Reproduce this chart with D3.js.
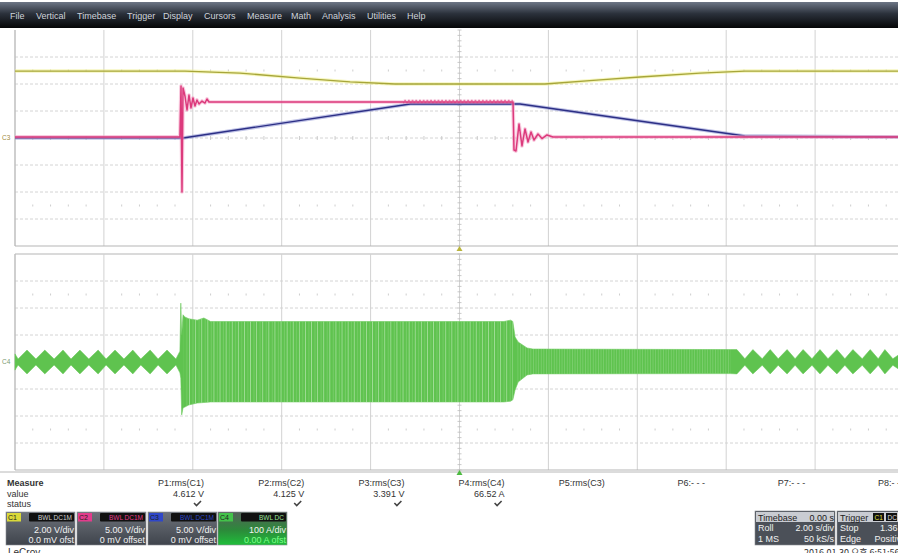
<!DOCTYPE html>
<html><head><meta charset="utf-8">
<script src="https://cdn.jsdelivr.net/npm/d3@7"></script>
<style>
body{margin:0;background:#fff;overflow:hidden}
svg{display:block;font-family:"Liberation Sans",Arial,sans-serif}
</style>
</head><body>
<svg id="c" width="898" height="553"></svg>
<script>
// ---------------- DATA ----------------
const menuItems = ["File","Vertical","Timebase","Trigger","Display","Cursors","Measure","Math","Analysis","Utilities","Help"];
const menuX = [10,36,77,127,163,204,247,291,322,367,407];

const timeDivs = d3.range(-10, 10.001, 2);       // 2.00 s/div, 10 divisions
const vertDivs = d3.range(-4, 4.001, 1);         // 8 vertical divisions

// C1 (yellow) 2 V/div, volts
const c1T = [-10,-6.18,-4.94,-3.59,-2.46,-1.45,1.92,3.16,4.06,5.41,6.42,10];
const c1V = [4.96,4.96,4.81,4.44,4.15,4.00,4.00,4.30,4.52,4.81,4.96,4.96];

// C2 (pink) 5 V/div, volts
const c2T = [-10,-6.29,-6.265,-6.243,-6.22,-6.176,-6.13,-6.086,-6.041,-5.996,-5.95,-5.906,-5.86,-5.793,-5.726,-5.681,-5.636,
             1.204,1.226,1.271,1.339,1.406,1.474,1.541,1.609,1.676,1.766,1.856,1.968,2.103,10];
const c2V = [0.19,0.19,9.63,-10.0,9.26,7.78,5.19,7.96,5.56,7.41,5.93,7.04,6.30,6.85,6.48,7.22,6.67,
             6.67,-2.22,-2.41,2.59,-1.48,1.67,-0.74,1.11,-0.37,0.74,-0.10,0.56,0.19,0.19];
// C2 ripple band while flat-top
const c2RipT = [-1.27, 1.20];
const c2RipV = [6.67, 6.67];
const c2RipAmp = [0.42, 0.42];

// C3 (blue) 5 V/div, volts
const c3T = [-10,-6.22,-1.11,1.36,6.42,10];
const c3V = [0.0,0.0,6.30,6.30,0.37,0.19];

// C4 (green) 100 A/div, amps: envelope
const c4T  = [-10,-9.93,-9.73,-9.53,-9.33,-9.12,-8.92,-8.74,-8.54,-8.34,-8.13,-7.95,-7.75,-7.55,-7.35,-7.17,-6.96,-6.78,-6.58,-6.38,
              -6.29,-6.27,-6.25,-6.22,-6.18,-6.09,-5.90,-5.75,-5.60,1.00,1.15,1.20,1.25,1.32,1.52,1.65,6.09,
              6.24,6.42,6.60,6.81,6.99,7.17,7.37,7.55,7.73,7.93,8.11,8.29,8.49,8.67,8.85,9.06,9.24,9.42,9.57,9.75,10];
const c4Hi = [30,11,44,11,44,11,44,11,44,11,44,11,44,11,44,11,44,11,44,11,
              40,218,100,175,167,160,155,163,150,150,155,150,93,74,52,48,46,
              46,12,46,12,46,12,46,12,46,12,46,12,46,12,46,12,46,12,46,12,40];
const c4Lo = [-30,-11,-44,-11,-44,-11,-44,-11,-44,-11,-44,-11,-44,-11,-44,-11,-44,-11,-44,-11,
              -40,-60,-196,-170,-167,-159,-152,-150,-148,-148,-145,-140,-104,-74,-48,-44,-43,
              -44,-12,-44,-12,-44,-12,-44,-12,-44,-12,-44,-12,-44,-12,-44,-12,-44,-12,-44,-12,-40];

// Measurement table
const mHeaders = ["P1:rms(C1)","P2:rms(C2)","P3:rms(C3)","P4:rms(C4)","P5:rms(C3)","P6:- - -","P7:- - -","P8:- - -"];
const mValues  = ["4.612 V","4.125 V","3.391 V","66.52 A","","","",""];
const mStatus  = [true,true,true,true,false,false,false,false];

// Channel descriptor boxes
const chNames   = ["C1","C2","C3","C4"];
const chColors  = ["#d9d93a","#e23c8c","#2f47c8","#43c24a"];
const chTags    = ["BWL DC1M","BWL DC1M","BWL DC1M","BWL DC"];
const chScale   = ["2.00 V/div","5.00 V/div","5.00 V/div","100 A/div"];
const chOffset  = ["0.0 mV ofst","0 mV offset","0 mV offset","0.00 A ofst"];

const tbRows = [["Timebase","0.00 s"],["Roll","2.00 s/div"],["1 MS","50 kS/s"]];
const trRows = [["Trigger",""],["Stop","1.36 V"],["Edge","Positive"]];

// ---------------- DRAW ----------------
const svg = d3.select("#c");
const W = 898, H = 553;
const defs = svg.append("defs");

// menu bar
const mg = defs.append("linearGradient").attr("id","menuG").attr("x1",0).attr("y1",0).attr("x2",0).attr("y2",1);
mg.append("stop").attr("offset","0").attr("stop-color","#6d7686");
mg.append("stop").attr("offset","0.45").attr("stop-color","#2b313b");
mg.append("stop").attr("offset","1").attr("stop-color","#050607");
svg.append("rect").attr("x",0).attr("y",2).attr("width",W).attr("height",26).attr("fill","url(#menuG)");
svg.selectAll("text.menu").data(menuItems).join("text").attr("class","menu")
  .attr("x",(d,i)=>menuX[i]).attr("y",19).attr("font-size",9).attr("fill","#cfd3da").text(d=>d);

const x = d3.scaleLinear().domain([-10,10]).range([15,904]);

function drawPanel(top, bottom){
  const yd = d3.scaleLinear().domain([-4,4]).range([bottom, top]);
  const g = svg.append("g");
  g.selectAll("line.h").data(vertDivs.slice(1,-1)).join("line")
    .attr("x1",15).attr("x2",W).attr("y1",d=>yd(d)).attr("y2",d=>yd(d))
    .attr("stroke","#c9c9c9").attr("stroke-width",0.8).attr("stroke-dasharray","3,2");
  g.selectAll("line.v").data(timeDivs).join("line")
    .attr("x1",d=>x(d)).attr("x2",d=>x(d)).attr("y1",top).attr("y2",bottom)
    .attr("stroke","#d2d2d2").attr("stroke-width",1);
  const minorT = d3.range(-10, 10.001, 0.4).filter(t=>Math.abs(Math.round(t/2)*2-t)>0.01);
  [0, 2.5, -2.5].forEach(r=>{
    const yy = yd(r);
    g.selectAll(null).data(minorT).join("line")
      .attr("x1",d=>x(d)).attr("x2",d=>x(d)).attr("y1",yy-(r===0?2:1)).attr("y2",yy+(r===0?2:1))
      .attr("stroke","#c2c2c2").attr("stroke-width",0.8);
  });
  const minorV = d3.range(-4, 4.001, 0.2);
  g.selectAll(null).data(minorV).join("line")
    .attr("x1",x(0)-2).attr("x2",x(0)+2).attr("y1",d=>yd(d)).attr("y2",d=>yd(d))
    .attr("stroke","#bdbdbd").attr("stroke-width",0.8);
  g.append("line").attr("x1",15).attr("x2",W).attr("y1",bottom).attr("y2",bottom).attr("stroke","#b5b5b5");
  g.append("line").attr("x1",15).attr("x2",15).attr("y1",top).attr("y2",bottom).attr("stroke","#b5b5b5");
  return yd;
}
drawPanel(30, 246);
svg.append("line").attr("x1",15).attr("x2",W).attr("y1",254).attr("y2",254).attr("stroke","#b5b5b5");
drawPanel(254, 470);

const yC1 = d3.scaleLinear().domain([-8,8]).range([246,30]);
const yC2 = d3.scaleLinear().domain([-20,20]).range([246,30]);
const yC3 = d3.scaleLinear().domain([-20,20]).range([246,30]);
const yC4 = d3.scaleLinear().domain([-400,400]).range([470,254]);

const zip = (T,V)=>T.map((t,i)=>({t, v:V[i]}));

function trace(data, yS, color, halo, w){
  const ln = d3.line().x(d=>x(d.t)).y(d=>yS(d.v));
  svg.append("path").datum(data).attr("d",ln).attr("fill","none")
     .attr("stroke",halo).attr("stroke-width",w+2.2).attr("stroke-opacity",0.55).attr("stroke-linejoin","round");
  svg.append("path").datum(data).attr("d",ln).attr("fill","none")
     .attr("stroke",color).attr("stroke-width",w).attr("stroke-linejoin","round");
}

// C4 green envelope
const c4Data = c4T.map((t,i)=>({t, hi:c4Hi[i], lo:c4Lo[i]}));
const area4 = d3.area().x(d=>x(d.t)).y0(d=>yC4(d.lo)).y1(d=>yC4(d.hi));
const pat = defs.append("pattern").attr("id","strG").attr("patternUnits","userSpaceOnUse")
  .attr("width",6.1).attr("height",10);
pat.append("rect").attr("x",0).attr("y",0).attr("width",0.8).attr("height",10).attr("fill","#bfe9b6").attr("opacity",0.75);
pat.append("rect").attr("x",3.4).attr("y",0).attr("width",0.6).attr("height",10).attr("fill","#a9e09e").attr("opacity",0.5);
const pat2 = defs.append("pattern").attr("id","strG2").attr("patternUnits","userSpaceOnUse")
  .attr("width",2.6).attr("height",10);
pat2.append("rect").attr("x",0).attr("y",0).attr("width",0.6).attr("height",10).attr("fill","#b0e4a7").attr("opacity",0.5);
defs.append("clipPath").attr("id","clipMid").append("rect").attr("x",x(-6.2)).attr("y",254).attr("width",x(1.2)-x(-6.2)).attr("height",216);
defs.append("clipPath").attr("id","clipPost").append("rect").attr("x",x(1.3)).attr("y",254).attr("width",x(6.1)-x(1.3)).attr("height",216);
svg.append("path").datum(c4Data).attr("d",area4).attr("fill","#5fc34f").attr("stroke","#6cc95c").attr("stroke-width",0.6);
svg.append("path").datum(c4Data).attr("d",area4).attr("fill","url(#strG)").attr("clip-path","url(#clipMid)");
svg.append("path").datum(c4Data).attr("d",area4).attr("fill","url(#strG2)").attr("clip-path","url(#clipPost)");

trace(zip(c1T,c1V), yC1, "#a7a63a", "#eeee8a", 1.3);
trace(zip(c3T,c3V), yC3, "#2c2f86", "#8b8fd0", 1.4);
const rip = c2RipT.map((t,i)=>({t, v:c2RipV[i], a:c2RipAmp[i]}));
const ripPat = defs.append("pattern").attr("id","ripP").attr("patternUnits","userSpaceOnUse").attr("width",3.7).attr("height",6);
ripPat.append("path").attr("d","M0,1 L1.85,5 L3.7,1").attr("fill","none").attr("stroke","#d9337a").attr("stroke-width",1);
trace(zip(c2T,c2V), yC2, "#dc3a7c", "#f4a0c4", 1.5);
svg.append("path").datum(rip).attr("d", d3.area().x(d=>x(d.t)).y0(d=>yC2(d.v-d.a)-0.5).y1(d=>yC2(d.v+d.a)+0.5))
  .attr("fill","url(#ripP)").attr("transform","translate(0,-0.5)");

svg.append("text").attr("x",2).attr("y",140).attr("font-size",6.5).attr("fill","#a08c3c").text("C3");
svg.append("text").attr("x",2).attr("y",364).attr("font-size",6.5).attr("fill","#7a9a70").text("C4");

svg.append("path").attr("d",`M${x(0)-3},251 L${x(0)+3},251 L${x(0)},246 Z`).attr("fill","#b9b43c");
svg.append("line").attr("x1",0).attr("x2",W).attr("y1",472).attr("y2",472).attr("stroke","#b8b8b8");
svg.append("path").attr("d",`M${x(0)-3},475 L${x(0)+3},475 L${x(0)},470 Z`).attr("fill","#4cba40");

// Measure table
const mt = svg.append("g").attr("font-size",9).attr("fill","#333");
mt.append("text").attr("x",7).attr("y",486).attr("font-weight","bold").text("Measure");
mt.append("text").attr("x",7).attr("y",496.5).text("value");
mt.append("text").attr("x",7).attr("y",506.5).text("status");
const colX = d3.scaleLinear().domain([0,1]).range([204,304.2]);
mHeaders.forEach((h,i)=>{
  mt.append("text").attr("x",colX(i)).attr("y",486).attr("text-anchor","end").text(h);
  if(mValues[i]) mt.append("text").attr("x",colX(i)).attr("y",496.5).attr("text-anchor","end").text(mValues[i]);
  if(mStatus[i]) mt.append("path").attr("d",`M${colX(i)-10},503 L${colX(i)-7.5},505.5 L${colX(i)-3},501`)
     .attr("fill","none").attr("stroke","#444").attr("stroke-width",1.6);
});

// channel boxes
const bg = defs.append("linearGradient").attr("id","boxG").attr("x1",0).attr("y1",0).attr("x2",0).attr("y2",1);
bg.append("stop").attr("offset","0").attr("stop-color","#6d727a");
bg.append("stop").attr("offset","1").attr("stop-color","#3f444c");
const bg4 = defs.append("linearGradient").attr("id","boxG4").attr("x1",0).attr("y1",0).attr("x2",0).attr("y2",1);
bg4.append("stop").attr("offset","0").attr("stop-color","#55605a");
bg4.append("stop").attr("offset","0.55").attr("stop-color","#2c8a3a");
bg4.append("stop").attr("offset","1").attr("stop-color","#1fbf3a");
const boxX = [6,77,148,218];
chNames.forEach((n,i)=>{
  const bx = boxX[i], g = svg.append("g");
  g.append("rect").attr("x",bx).attr("y",512).attr("width",69).attr("height",33).attr("fill",i===3?"url(#boxG4)":"url(#boxG)").attr("stroke","#8a8e94").attr("stroke-width",0.6);
  g.append("rect").attr("x",bx+1).attr("y",513).attr("width",14).attr("height",8.5).attr("fill",chColors[i]);
  g.append("text").attr("x",bx+2).attr("y",520).attr("font-size",7).attr("fill","#222").text(n);
  g.append("rect").attr("x",bx+23).attr("y",513).attr("width",45).attr("height",8.5).attr("fill","#111").attr("rx",1);
  g.append("text").attr("x",bx+66).attr("y",520).attr("text-anchor","end").attr("font-size",6.5)
   .attr("fill", i===0?"#cfcfcf":(i===3?"#9be39b":chColors[i])).text(chTags[i]);
  g.append("text").attr("x",bx+68).attr("y",533).attr("text-anchor","end").attr("font-size",9).attr("fill","#f2f2f2").text(chScale[i]);
  const cp = "cb"+i;
  defs.append("clipPath").attr("id",cp).append("rect").attr("x",bx).attr("y",512).attr("width",69).attr("height",33);
  g.append("text").attr("x",bx+68).attr("y",542.5).attr("text-anchor","end").attr("font-size",9)
   .attr("fill",i===3?"#7dff8a":"#f2f2f2").attr("clip-path",`url(#${cp})`).text(chOffset[i]);
});
svg.append("text").attr("x",8).attr("y",556).attr("font-size",10).attr("fill","#333").text("LeCroy");

function infoBox(bx, w, rows, id){
  const g = svg.append("g");
  defs.append("clipPath").attr("id",id).append("rect").attr("x",bx).attr("y",511).attr("width",w).attr("height",34);
  g.append("rect").attr("x",bx).attr("y",511).attr("width",w).attr("height",34).attr("fill","#4b5058").attr("stroke","#8a8e94").attr("stroke-width",0.6);
  g.append("rect").attr("x",bx+1).attr("y",512).attr("width",w-2).attr("height",10).attr("fill","#c9ccd2");
  rows.forEach((r,k)=>{
    const yy = 520.5 + k*10.5;
    g.append("text").attr("x",bx+3).attr("y",yy).attr("font-size",9).attr("fill",k===0?"#222":"#f0f0f0").text(r[0]);
    g.append("text").attr("x",bx+w-1).attr("y",yy).attr("text-anchor","end").attr("font-size",9)
      .attr("fill",k===0?"#222":"#f0f0f0").attr("clip-path",`url(#${id})`).text(r[1]);
  });
  return g;
}
infoBox(755, 80, tbRows, "tbc");
const tg = infoBox(837, 70, trRows, "trc");
tg.append("rect").attr("x",873).attr("y",513).attr("width",11).attr("height",8).attr("fill","#111");
tg.append("text").attr("x",874.5).attr("y",520).attr("font-size",6.5).attr("fill","#e0e040").text("C1");
tg.append("rect").attr("x",886).attr("y",513).attr("width",11).attr("height",8).attr("fill","#111");
tg.append("text").attr("x",887.5).attr("y",520).attr("font-size",6.5).attr("fill","#ddd").text("DC");
svg.append("text").attr("x",804).attr("y",556).attr("font-size",9)
  .attr("font-family","'Noto Sans CJK KR','Liberation Sans',sans-serif").attr("fill","#333").text("2016.01.30 오후 6:51:56");
</script>
</body></html>
